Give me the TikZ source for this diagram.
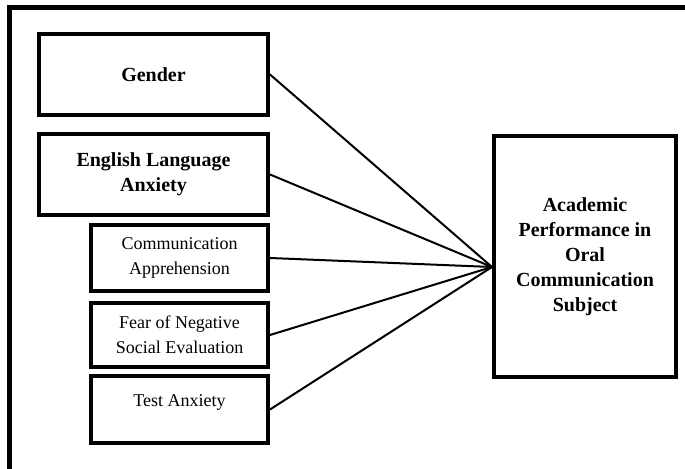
\documentclass[tikz,border=0pt]{standalone}
\usepackage{fontspec}
\setmainfont{Liberation Serif}
\usetikzlibrary{calc}

\begin{document}
\begin{tikzpicture}[x=0.5pt, y=-0.5pt,
    factor/.style={draw, line width=2pt, align=center, inner sep=0pt, font=\fontsize{10}{12.5}\selectfont\bfseries},
    subfactor/.style={factor, font=\fontsize{9}{12.5}\selectfont},
    link/.style={line width=1pt}]
    \useasboundingbox (0,0) rectangle (685,469);
    % outer frame, only its top and left sides fall on the page
    \draw[line width=2.5pt] (9,469) |- (685,8);

    \node[factor, minimum width=114.5pt, minimum height=40.5pt] (gender) at (153.5,74.5) {Gender};
    \node[factor, minimum width=114.5pt, minimum height=40.5pt] (ela) at (153.5,174.5) {English Language\\Anxiety};
    \node[subfactor, minimum width=88.5pt, minimum height=33pt] (ca) at (179.5,258) {Communication\\Apprehension};
    \node[subfactor, minimum width=88.5pt, minimum height=32pt] (fnse) at (179.5,335) {Fear of Negative\\Social Evaluation};
    \node[subfactor, minimum width=88.5pt, minimum height=33.5pt] (ta) at (179.5,409.5) {Test Anxiety\\[-4pt]\mbox{}};
    \node[factor, minimum width=91pt, minimum height=120.5pt] (perf) at (585,256.5) {Academic\\Performance in\\Oral\\Communication\\Subject};

    \coordinate (hub) at ($(perf.west)+(0,10.5)$);

    \draw[link] (gender.east) -- (hub);
    \draw[link] (ela.east) -- (hub);
    \draw[link] (ca.east) -- (hub);
    \draw[link] (fnse.east) -- (hub);
    \draw[link] (ta.east) -- (hub);
\end{tikzpicture}
\end{document}
